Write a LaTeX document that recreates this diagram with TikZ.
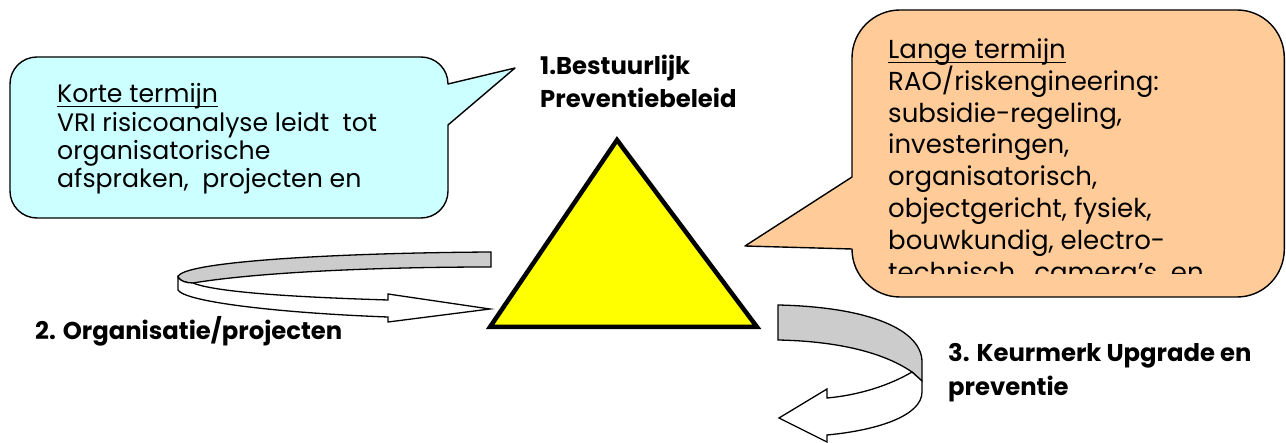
\documentclass[tikz,border=0pt]{standalone}
\usepackage{fontspec}
\setmainfont{Poppins}
\definecolor{calloutblue}{HTML}{CCFFFF}
\definecolor{calloutorange}{HTML}{FFCC99}
\definecolor{triyellow}{HTML}{FFFF00}
\definecolor{bandgrey}{HTML}{CCCCCC}
\begin{document}
\begin{tikzpicture}[x=1pt,y=-1pt,
  callout/.style={draw=black,line width=1.4pt,line join=round},
  band/.style={draw=black,line width=1.3pt,line join=miter},
  bodytxt/.style={anchor=base west,inner sep=0pt,font=\fontsize{25.2}{28}\selectfont},
  bigtxt/.style={anchor=base west,inner sep=0pt,font=\fontsize{26}{32}\selectfont},
  labeltxt/.style={anchor=base west,inner sep=0pt,font=\bfseries\fontsize{24.3}{28}\selectfont},
  uline/.style={line width=1pt}]
\useasboundingbox (0,0) rectangle (1286,443);

% left callout
\draw[callout,fill=calloutblue] (37,57) -- (421,57) .. controls (436,57) and (448,69) .. (448,84)
  -- (515,68) -- (448,125) -- (448,191) .. controls (448,206) and (436,218) .. (421,218)
  -- (37,218) .. controls (22,218) and (10,206) .. (10,191) -- (10,84)
  .. controls (10,69) and (22,57) .. (37,57) -- cycle;
\node[bodytxt] (k1) at (57,103) {Korte termijn};
\draw[uline] ([yshift=-3.5pt]k1.base west) -- ([yshift=-3.5pt]k1.base east);
\node[bodytxt] (k2) at (57,131.5) {VRI risicoanalyse leidt~ tot};
\node[bodytxt] (k3) at (57,160) {organisatorische};
\node[bodytxt] (k4) at (57,188) {afspraken,~ projecten en};

% right callout
\draw[callout,fill=calloutorange] (900,10) -- (1237,10) .. controls (1263,10) and (1284.3,31) .. (1284.3,58)
  -- (1284.3,249) .. controls (1284.3,276) and (1263,297) .. (1237,297)
  -- (900,297) .. controls (874,297) and (852,276) .. (852,249)
  -- (745,246) -- (852,177) -- (852,58) .. controls (852,31) and (874,10) .. (900,10) -- cycle;
\begin{scope}
\clip (852,10) rectangle (1285,274);
\node[bigtxt] (l1) at (888,59) {Lange termijn};
\node[bigtxt] (l2) at (888,91) {RAO/riskengineering:};
\node[bigtxt] (l3) at (888,122.5) {subsidie-regeling,};
\node[bigtxt] (l4) at (888,154) {investeringen,};
\node[bigtxt] (l5) at (888,186) {organisatorisch,};
\node[bigtxt] (l6) at (888,218) {objectgericht, fysiek,};
\node[bigtxt] (l7) at (888,250) {bouwkundig, electro-};
\node[bigtxt] (l8) at (888,281.5) {technisch,~ camera's~ en};
\end{scope}
\draw[uline] ([yshift=-3.5pt]l1.base west) -- ([yshift=-3.5pt]l1.base east);

% triangle
\coordinate (apex) at (617,140);
\coordinate (bl) at (490,327);
\coordinate (br) at (757,327);
\draw[line width=4.5pt,fill=triyellow,line join=miter] (apex) -- (br) -- (bl) -- cycle;

% labels
\node[labeltxt] (t1a) at (540,75) {1.Bestuurlijk};
\node[labeltxt] (t1b) at (540,108) {Preventiebeleid};
\node[labeltxt] (t2) at (35,340) {2. Organisatie/projecten};
\node[labeltxt] (t3a) at (948,362) {3. Keurmerk Upgrade en};
\node[labeltxt] (t3b) at (948,396) {preventie};

% left ribbon arrow
\draw[band,fill=bandgrey] (491,252) .. controls (330,253) and (180,262) .. (178,277)
  .. controls (180,281) and (186,283) .. (193,283)
  .. controls (260,272) and (380,267) .. (491,267) -- cycle;
\draw[band,fill=white] (178,277) -- (178,290) .. controls (185,302) and (280,313) .. (388,317)
  -- (388,322) -- (490,309) -- (388,294) -- (388,300)
  .. controls (290,297) and (215,292) .. (193,283)
  .. controls (186,283) and (180,281) .. (178,277) -- cycle;

% right ribbon arrow
\draw[band,fill=bandgrey] (778,305) .. controls (870,307) and (922,330) .. (922,362)
  -- (922,381) -- (912,372) .. controls (880,350) and (830,341) .. (778,340) -- cycle;
\draw[band,fill=white] (912,372) .. controls (890,385) and (860,395) .. (827,398)
  -- (827,389) -- (779,418) -- (827,442) -- (827,435)
  .. controls (880,430) and (922,415) .. (922,392) -- (922,381) -- cycle;
\end{tikzpicture}
\end{document}
